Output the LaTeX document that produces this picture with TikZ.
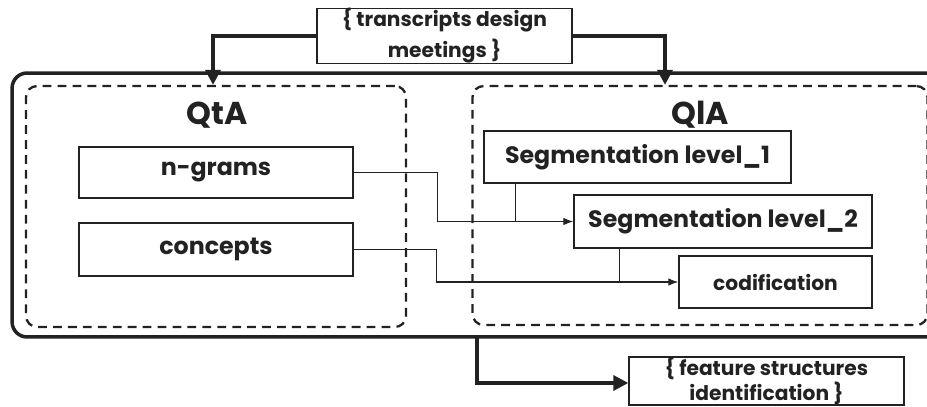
\documentclass[tikz,border=0pt]{standalone}
\usepackage{fontspec}
\setmainfont{Poppins}
\definecolor{inkgray}{RGB}{34, 34, 34}
\usetikzlibrary{arrows.meta, positioning, calc}

\begin{document}
\begin{tikzpicture}[x=0.02cm, y=-0.02cm, inkgray,
    box/.style={draw, line width=0.8pt, inner sep=0pt, align=center,
      font=\bfseries\fontsize{13.5}{15}\selectfont},
    group/.style={draw, dashed, line width=1.3pt, rounded corners=0.22cm,
      dash pattern=on 5pt off 3.5pt, inner sep=0pt},
    link/.style={line width=0.6pt, -{Latex[length=0.2cm, width=0.15cm]}},
    flow/.style={line width=2pt, -{Triangle[length=0.3cm, width=0.3cm]}}]
  \useasboundingbox (0,0) rectangle (927,406);

  % === outer frame and the two analyses ===
  \node[draw, line width=2pt, rounded corners=0.3cm, minimum width=18.56cm,
    minimum height=5.28cm, inner sep=0pt] (outer) at (476,205) {};
  \node[group, minimum width=7.6cm, minimum height=4.82cm] (qta) at (216,206.5) {};
  \node[group, minimum width=9.1cm, minimum height=4.78cm] (qla) at (700,205.5) {};
  \node[font=\bfseries\fontsize{18}{20}\selectfont] (qtalbl) at (217,115) {QtA};
  \node[font=\bfseries\fontsize{18}{20}\selectfont] (qlalbl) at (700,115) {QlA};

  % === input ===
  \node[box, font=\bfseries\fontsize{11.5}{13}\selectfont, minimum width=5.1cm,
    minimum height=1.08cm] (trans) at (444.5,36)
    {\{ transcripts design\\[3pt] meetings \}};
  \draw[flow] (trans.west) -| ([xshift=-0.06cm]qta.north);
  \draw[flow] (trans.east) -| ([xshift=-0.7cm]qla.north);

  % === QtA ===
  \node[box, minimum width=5.48cm, minimum height=1.02cm] (ngrams) at (216,172.5) {n-grams};
  \node[box, minimum width=5.48cm, minimum height=1.06cm] (concepts) at (216,249.5) {concepts};

  % === QlA ===
  \node[box, minimum width=6.14cm, minimum height=1.04cm] (seg1) at (637.5,157) {Segmentation level\_1};
  \node[box, minimum width=5.96cm, minimum height=1.06cm] (seg2) at (723,221.5) {Segmentation level\_2};
  \node[box, font=\bfseries\fontsize{11.5}{13}\selectfont, minimum width=3.86cm,
    minimum height=1.04cm] (cod) at (775.5,282) {codification};

  \draw[link] (ngrams.east) -- ++(84,0) |- (seg2.west);
  \draw[link] (concepts.east) -- ++(83,0) |- (cod.west);
  \coordinate (j1) at ([xshift=0.64cm]seg1.south west);
  \coordinate (j2) at ([xshift=0.92cm]seg2.south west);
  \draw[line width=0.6pt] (j1) -- (j1 |- seg2.west);
  \draw[line width=0.6pt] (j2) -- (j2 |- cod.west);

  % === output ===
  \node[box, font=\bfseries\fontsize{11.5}{12.5}\selectfont, minimum width=5.5cm,
    minimum height=0.96cm] (feat) at (766.5,381)
    {\{ feature structures\\[0pt] identification \}};
  \coordinate (out) at (477,337);
  \draw[flow] (out) |- ([yshift=-0.04cm]feat.west);
\end{tikzpicture}
\end{document}
